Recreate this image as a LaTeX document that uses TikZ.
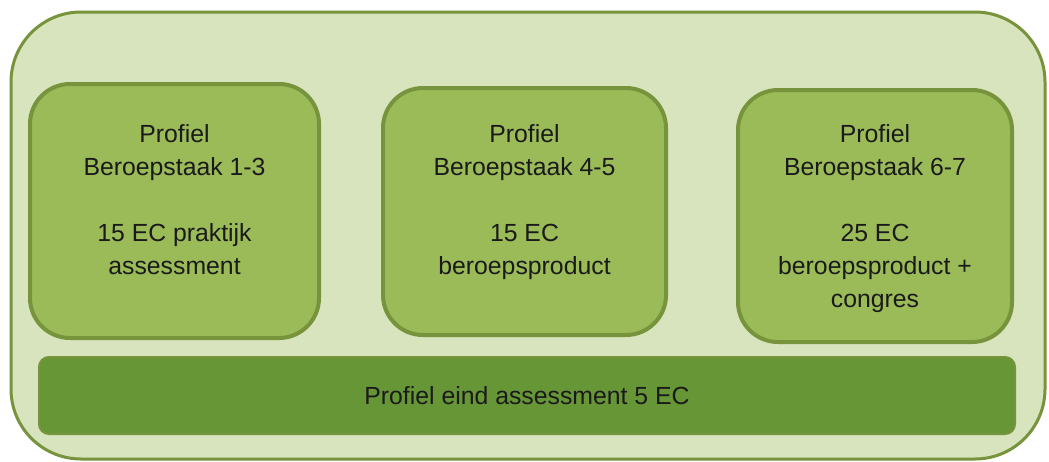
\documentclass[tikz,border=0pt]{standalone}
\usepackage{fontspec}
\setmainfont{Liberation Sans}
\definecolor{outerfill}{HTML}{D7E4BD}
\definecolor{olive}{HTML}{77933C}
\definecolor{boxfill}{HTML}{9BBB59}
\definecolor{barfill}{HTML}{679637}
\definecolor{txt}{HTML}{1A1A1A}
\tikzset{
  outerbox/.style={draw=olive, fill=outerfill, line width=3pt, rounded corners=70pt},
  profbox/.style={draw=olive, fill=boxfill, line width=4pt, rounded corners=40pt},
  barbox/.style={draw=olive, fill=barfill, line width=2pt, rounded corners=10pt},
  lbl/.style={text=txt, align=center, inner sep=0pt, anchor=north,
    font=\fontsize{24.8}{33}\selectfont},
  barlbl/.style={text=txt, inner sep=0pt, font=\fontsize{24.8}{33}\selectfont}
}
\begin{document}
\begin{tikzpicture}[x=1pt,y=-1pt]
\useasboundingbox (0,0) rectangle (1049,461);
\draw[outerbox] (11,12) rectangle (1045,459);
\path[profbox] (30,84) rectangle (319,338) coordinate (b1se);
\path[profbox] (383,88) rectangle (666,335) coordinate (b2se);
\path[profbox] (738,90) rectangle (1012,342) coordinate (b3se);
\path[barbox] (39,357) rectangle (1015,434);
\node[lbl] (t1) at (174.5,124) {Profiel\\Beroepstaak 1-3\\[33pt]15 EC praktijk\\assessment};
\node[lbl] (t2) at (524.5,124) {Profiel\\Beroepstaak 4-5\\[33pt]15 EC\\beroepsproduct};
\node[lbl] (t3) at (875,124) {Profiel\\Beroepstaak 6-7\\[33pt]25 EC\\beroepsproduct +\\congres};
\node[barlbl] (t4) at (527,396) {Profiel eind assessment 5 EC};
\end{tikzpicture}
\end{document}
